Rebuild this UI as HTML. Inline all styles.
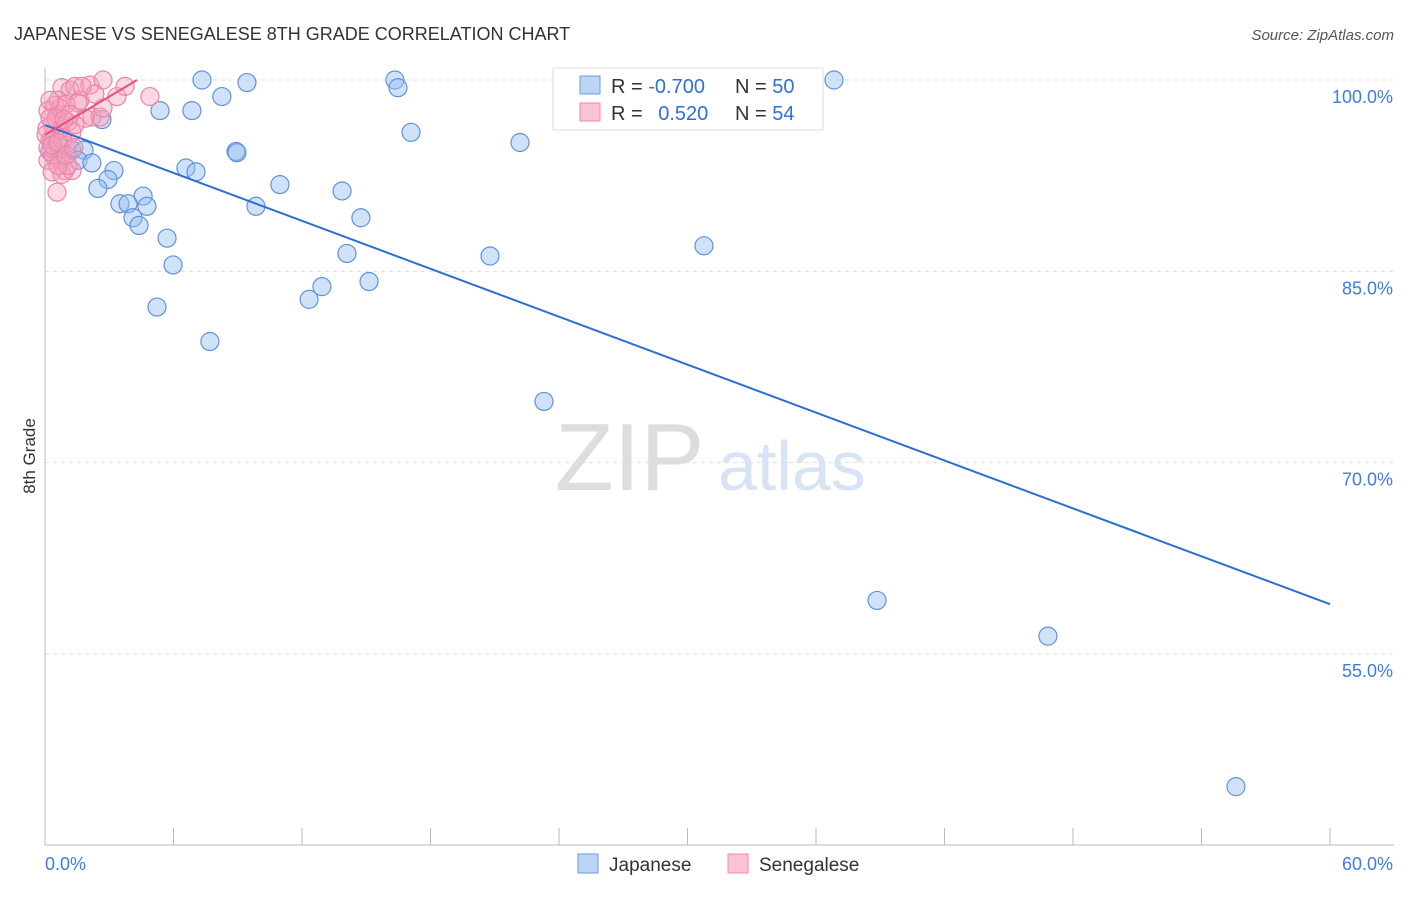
<!DOCTYPE html>
<html><head><meta charset="utf-8"><style>
body{margin:0;background:#fff;font-family:"Liberation Sans",sans-serif}
svg text{font-family:"Liberation Sans",sans-serif}
</style></head><body>
<svg id="chart" width="1406" height="892" xmlns="http://www.w3.org/2000/svg">
<text x="14" y="40" font-size="18" fill="#333">JAPANESE VS SENEGALESE 8TH GRADE CORRELATION CHART</text>
<text x="1394" y="40" font-size="15" fill="#555" font-style="italic" text-anchor="end">Source: ZipAtlas.com</text>
<text x="35" y="456" font-size="17" fill="#333" transform="rotate(-90 35 456)" text-anchor="middle">8th Grade</text>
<text x="555" y="490" font-size="96" fill="#ddd" font-family="Liberation Serif">ZIP</text>
<text x="718" y="490" font-size="70" fill="#d6e4f5">atlas</text>
<g id="grid"></g><g id="axes"></g><g id="marks"></g>
<g>
<rect x="553" y="68" width="270" height="62" fill="#fff" stroke="#ddd"/>
<rect x="580" y="76" width="20" height="18" fill="#bcd5f5" stroke="#6a9be0"/>
<rect x="580" y="103" width="20" height="18" fill="#fac3d3" stroke="#ee8aa9"/>
<text x="611" y="93" font-size="20" fill="#333">R = <tspan fill="#2f6fd6">-0.700</tspan></text>
<text x="735" y="93" font-size="20" fill="#333">N = <tspan fill="#2f6fd6">50</tspan></text>
<text x="611" y="120" font-size="20" fill="#333">R = <tspan fill="#2f6fd6" dx="10">0.520</tspan></text>
<text x="735" y="120" font-size="20" fill="#333">N = <tspan fill="#2f6fd6">54</tspan></text>
</g>
<g>
<rect x="578" y="854" width="20" height="19" fill="#bcd5f5" stroke="#6a9be0"/>
<text x="609" y="871" font-size="19" fill="#333">Japanese</text>
<rect x="728" y="854" width="20" height="19" fill="#fac3d3" stroke="#ee8aa9"/>
<text x="759" y="871" font-size="19" fill="#333">Senegalese</text>
</g>
</svg>
<script>
const jpX=[7.33,9.43,16.34,16.48,36.84,8.26,5.37,6.86,2.66,17.09,22.18,8.92,8.96,1.26,1.82,0.70,1.54,2.19,6.58,7.05,3.22,2.94,10.97,2.47,13.87,4.58,3.50,3.88,4.76,9.85,4.11,4.39,14.75,5.70,30.77,14.10,20.78,5.98,15.13,12.93,12.33,5.23,7.70,23.30,38.85,46.83,55.61,0.33,0.23,0.79];
const jpY=[100,99.8,100,99.4,100,98.7,97.6,97.6,96.9,95.9,95.1,94.4,94.3,94.5,94.5,94.7,93.7,93.5,93.1,92.8,92.9,92.2,91.8,91.5,91.3,90.9,90.3,90.3,90.1,90.1,89.2,88.6,89.2,87.6,87.0,86.4,86.2,85.5,84.2,83.8,82.8,82.2,79.5,74.8,59.2,56.4,44.6,95.3,94.4,94.1];
const snX=[0.14,0.33,0.47,0.61,0.70,0.23,0.47,0.70,0.93,0.56,0.79,1.17,1.40,1.63,2.10,2.71,3.36,3.74,4.90,2.19,2.57,2.71,1.07,1.26,0.93,0.14,0.33,0.79,1.26,0.42,0.09,0.61,0.98,1.54,1.87,0.14,0.51,0.23,0.84,0.37,0.70,1.40,2.33,1.07,0.61,0.05,1.17,1.73,0.89,0.23,0.33,0.61,0.98,1.35];
const snY=[97.6,96.5,98.0,97.3,96.1,95.3,94.5,93.7,92.9,91.2,99.4,99.2,99.5,98.4,99.6,100,98.7,99.5,98.7,97.1,97.1,97.8,96.7,95.9,94.9,93.7,92.8,92.6,92.9,95.7,96.2,98.4,98.1,98.2,97.0,94.7,97.0,97.0,95.3,94.1,97.8,96.5,98.9,93.3,93.3,95.7,97.3,99.5,96.9,98.4,94.9,95.1,94.1,94.7];
const jpTrendX=[0,60];
const jpTrendY=[96.47,58.9];
const snTrendX=[0,4.3];
const snTrendY=[95.7,100];
const yTicks=[100,85,70,55];
const yTickLabels=["100.0%","85.0%","70.0%","55.0%"];
const xTickLabels=["0.0%","60.0%"];
const NS="http://www.w3.org/2000/svg";
const sx=v=>45+v*1285/60;
const sy=v=>80+(100-v)*191.33/15;
function mk(tag,attrs,parent){const e=document.createElementNS(NS,tag);for(const k in attrs)e.setAttribute(k,attrs[k]);parent.appendChild(e);return e;}
const grid=document.getElementById('grid'),axes=document.getElementById('axes'),marks=document.getElementById('marks');
yTicks.forEach((t,i)=>{
 const l=mk('line',{x1:45,x2:1394,y1:sy(t),y2:sy(t),stroke:'#ddd','stroke-dasharray':'4,4'},grid);
 
 
 const tx=mk('text',{x:1393,y:sy(t)+23,'font-size':18,fill:'#3d7de0','text-anchor':'end'},axes);
 tx.textContent=yTickLabels[i];
 
 
});
const la=mk('line',{x1:45,x2:45,y1:68,y2:845,stroke:'#bbb'},axes);


const lb=mk('line',{x1:45,x2:1394,y1:845,y2:845,stroke:'#bbb'},axes);


for(let k=0;k<=10;k++){
 const x=45+k*128.5;
 const t=mk('line',{x1:x,x2:x,y1:828,y2:845,stroke:'#bbb'},axes);
 
 
}
[[0,'start',45],[60,'end',1393]].forEach((d,i)=>{
 const tx=mk('text',{x:d[2],y:870,'font-size':18,fill:'#3d7de0','text-anchor':d[1]},axes);
 tx.textContent=xTickLabels[i];
 
 
});
jpX.forEach((x,i)=>{
 const c=mk('circle',{cx:sx(x),cy:sy(jpY[i]),r:9,fill:'rgba(150,190,240,0.45)',stroke:'#5e93dc','stroke-width':1.2},marks);
 
 
});
snX.forEach((x,i)=>{
 const c=mk('circle',{cx:sx(x),cy:sy(snY[i]),r:9,fill:'rgba(245,160,188,0.4)',stroke:'#ec84a5','stroke-width':1.2},marks);
 
 
});
const t1=mk('line',{x1:sx(jpTrendX[0]),y1:sy(jpTrendY[0]),x2:sx(jpTrendX[1]),y2:sy(jpTrendY[1]),stroke:'#2b6fd6','stroke-width':2},marks);


const t2=mk('line',{x1:sx(snTrendX[0]),y1:sy(snTrendY[0]),x2:sx(snTrendX[1]),y2:sy(snTrendY[1]),stroke:'#e8507f','stroke-width':2},marks);


</script>
</body></html>
